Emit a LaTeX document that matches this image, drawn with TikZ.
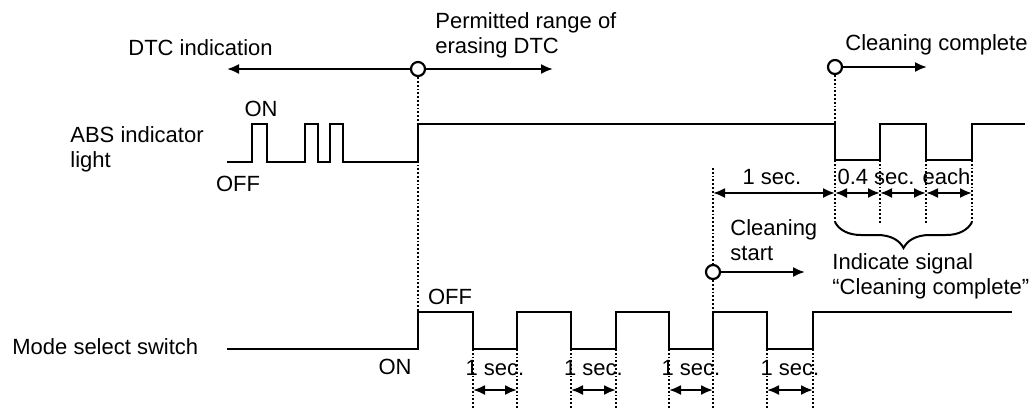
\documentclass[tikz,border=0pt]{standalone}
\usepackage{fontspec}
\setmainfont{Liberation Sans}
\usetikzlibrary{arrows.meta,decorations.pathreplacing}

\begin{document}
\begin{tikzpicture}[x=.5pt,y=-.5pt,>={Latex[length=6pt,width=5pt]},
  font=\fontsize{11}{12.5}\selectfont,
  sig/.style={line width=1.3pt},
  guide/.style={densely dotted,line width=.9pt},
  dim/.style={<->,line width=1pt},
  evt/.style={circle,draw,line width=1.1pt,fill=white,inner sep=0pt,minimum size=7pt},
  lbl/.style={anchor=west,align=left,inner sep=0pt}]
\useasboundingbox (0,0) rectangle (1034,409);

% event markers and arrow ends
\node[evt] (dtc) at (418,69) {};
\node[evt] (done) at (835,67) {};
\node[evt] (start) at (713,272) {};
\coordinate (dtcL) at (227,69);
\coordinate (dtcR) at (553,69);
\coordinate (doneR) at (927,67);
\coordinate (startR) at (805,272);
\draw[->,line width=1pt] (dtc.west) -- (dtcL);
\draw[->,line width=1pt] (dtc.east) -- (dtcR);
\draw[->,line width=1pt] (done.east) -- (doneR);
\draw[->,line width=1pt] (start.east) -- (startR);

% labels
\node[lbl] (dtctxt) at (128,48) {DTC indication};
\node[lbl] (erase) at (435,35.5) {Permitted range of\\erasing DTC};
\node[lbl] (donetxt) at (845,45) {Cleaning complete};
\node[lbl] (abs) at (70,149.5) {ABS indicator\\light};
\node[inner sep=0pt] (abson) at (261,109) {ON};
\node[inner sep=0pt] (absoff) at (238,184) {OFF};
\node[lbl] (starttxt) at (730,240) {Cleaning\\start};
\node[lbl] (ind) at (832,276.5) {Indicate signal\\“Cleaning complete”};
\node[lbl] (mode) at (12,347) {Mode select switch};
\node[inner sep=0pt] (modeoff) at (450,297) {OFF};
\node[inner sep=0pt] (modeon) at (395,367) {ON};

% ABS indicator light
\draw[sig] (227,162) -- (252,162) -- (252,124) -- (267,124) -- (267,162)
  -- (305,162) -- (305,124) -- (318,124) -- (318,162) -- (330,162)
  -- (330,124) -- (343,124) -- (343,162) -- (418,162) -- (418,124)
  -- (835,124) -- (835,160) -- (880,160) -- (880,124) -- (926,124)
  -- (926,160) -- (972,160) -- (972,124) -- (1025,124);

% mode select switch
\draw[sig] (227,349) -- (418,349) -- (418,312) -- (473,312) -- (473,349)
  -- (517,349) -- (517,312) -- (571,312) -- (571,349) -- (616,349)
  -- (616,312) -- (669,312) -- (669,349) -- (713,349) -- (713,312)
  -- (767,312) -- (767,349) -- (813,349) -- (813,312) -- (1012,312);

% guide lines
\draw[guide] (dtc.south) -- (418,312);
\draw[guide] (713,168) -- (start.north);
\draw[guide] (start.south) -- (713,312);
\draw[guide] (done.south) -- (835,124);
\draw[guide] (835,160) -- (835,222);
\foreach \x in {880,926} {\draw[guide] (\x,160) -- (\x,223);}
\draw[guide] (972,160) -- (972,222);

% cleaning complete timing
\draw[dim] (713,193) -- (835,193);
\draw[dim] (835,193) -- (880,193);
\draw[dim] (880,193) -- (926,193);
\draw[dim] (926,193) -- (972,193);
\node[inner sep=0pt] (onesec) at (772,177) {1 sec.};
\node[inner sep=0pt] (each) at (904,177) {0.4 sec. each};
\draw[decorate,decoration={brace,mirror,amplitude=13pt},line width=1pt]
  (835,222) -- (972,222);

% 1 sec. steps of the switch
\foreach \a/\b [count=\i] in {473/517,571/616,669/713,767/813} {
  \draw[guide] (\a,349) -- (\a,409);
  \draw[guide] (\b,349) -- (\b,409);
  \draw[dim] (\a,390) -- (\b,390);
  \node[inner sep=0pt] (sec\i) at ({(\a+\b)/2},368) {1 sec.};
}
\end{tikzpicture}
\end{document}
